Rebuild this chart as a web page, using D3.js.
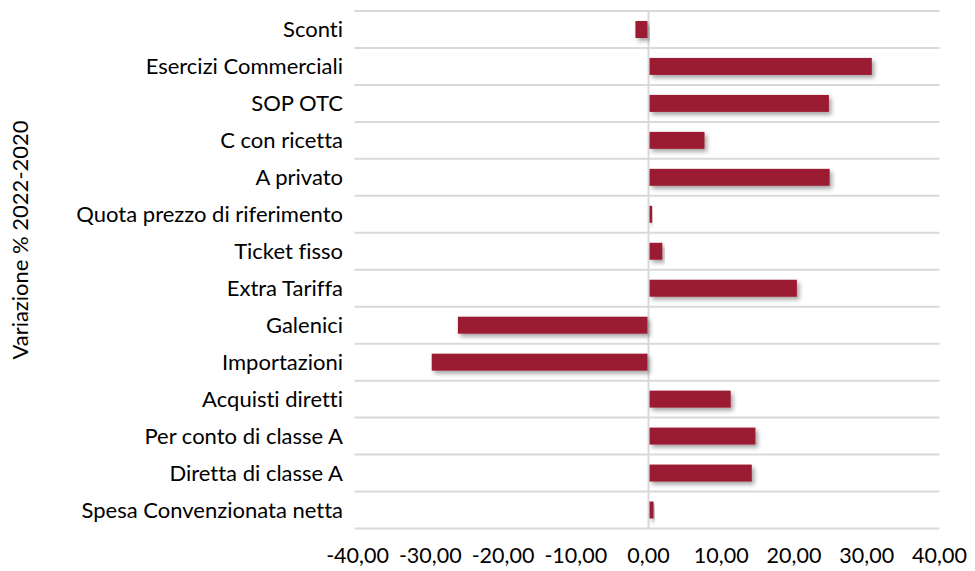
<!DOCTYPE html>
<html><head><meta charset="utf-8">
<script src="https://cdn.jsdelivr.net/npm/d3@7"></script>
<style>body{margin:0;background:#fff}svg{display:block}text{font-variant-ligatures:none;font-feature-settings:"liga" 0,"clig" 0}</style>
</head><body><svg id="c" width="975" height="571"></svg>
<script>
const categories = ["Sconti","Esercizi Commerciali","SOP OTC","C con ricetta","A privato","Quota prezzo di riferimento","Ticket fisso","Extra Tariffa","Galenici","Importazioni","Acquisti diretti","Per conto di classe A","Diretta di classe A","Spesa Convenzionata netta"];
const values = [-1.8, 30.7, 24.8, 7.7, 24.9, 0.5, 1.9, 20.4, -26.2, -29.8, 11.3, 14.7, 14.2, 0.7];
const xTicks = [-40,-30,-20,-10,0,10,20,30,40];
const yTitle = "Variazione % 2022-2020";

(function(){
const svg = d3.select("#c");
const font = "Lato, 'Open Sans', sans-serif";
const mLeft = 357.5, mRight = 939.5, mTop = 11, mBottom = 528.5;
const x = d3.scaleLinear().domain([-40,40]).range([mLeft,mRight]);
const y = d3.scaleBand().domain(categories).range([mTop,mBottom]).paddingInner(0).paddingOuter(0);

const defs = svg.append("defs");
const f = defs.append("filter").attr("id","sh").attr("x","-20%").attr("y","-50%").attr("width","140%").attr("height","220%");
f.append("feDropShadow").attr("dx",2.5).attr("dy",3).attr("stdDeviation",2).attr("flood-color","#000").attr("flood-opacity",0.35);

const bounds = categories.map(c=>y(c)).concat([y(categories[categories.length-1])+y.bandwidth()]);
svg.append("g").selectAll("line").data(bounds).join("line")
  .attr("x1",mLeft-3).attr("x2",mRight).attr("y1",d=>d).attr("y2",d=>d)
  .attr("stroke","#d9d9d9").attr("stroke-width",2);

svg.append("line").attr("x1",x(0)).attr("x2",x(0)).attr("y1",mTop).attr("y2",mBottom)
  .attr("stroke","#d9d9d9").attr("stroke-width",2);

const bh = y.bandwidth()*0.46;
svg.append("g").selectAll("rect").data(categories).join("rect")
  .attr("x",(d,i)=> values[i] >= 0 ? x(0)+1 : x(values[i]))
  .attr("width",(d,i)=> Math.abs(x(values[i]) - x(0)) - 1)
  .attr("y",d=> y(d) + (y.bandwidth()-bh)/2)
  .attr("height",bh)
  .attr("fill","#9b1f32")
  .attr("filter","url(#sh)");

svg.append("g").selectAll("text").data(categories).join("text")
  .attr("x",343).attr("y",d=>y(d)+y.bandwidth()/2)
  .attr("dy","0.35em").attr("text-anchor","end")
  .attr("font-family",font).attr("font-size",22).attr("fill","#000")
  .text(d=>d);

svg.append("g").selectAll("text").data(xTicks).join("text")
  .attr("x",d=>x(d)).attr("y",555).attr("dy","0.35em").attr("text-anchor","middle")
  .attr("font-family",font).attr("font-size",21.5).attr("fill","#000")
  .text(d=>d3.format(".2f")(d).replace(".",",").replace("−","-"));

svg.append("text").attr("transform","translate(20,240) rotate(-90)")
  .attr("text-anchor","middle").attr("dy","0.35em")
  .attr("font-family",font).attr("font-size",22).attr("fill","#000")
  .text(yTitle);
})();
</script></body></html>
